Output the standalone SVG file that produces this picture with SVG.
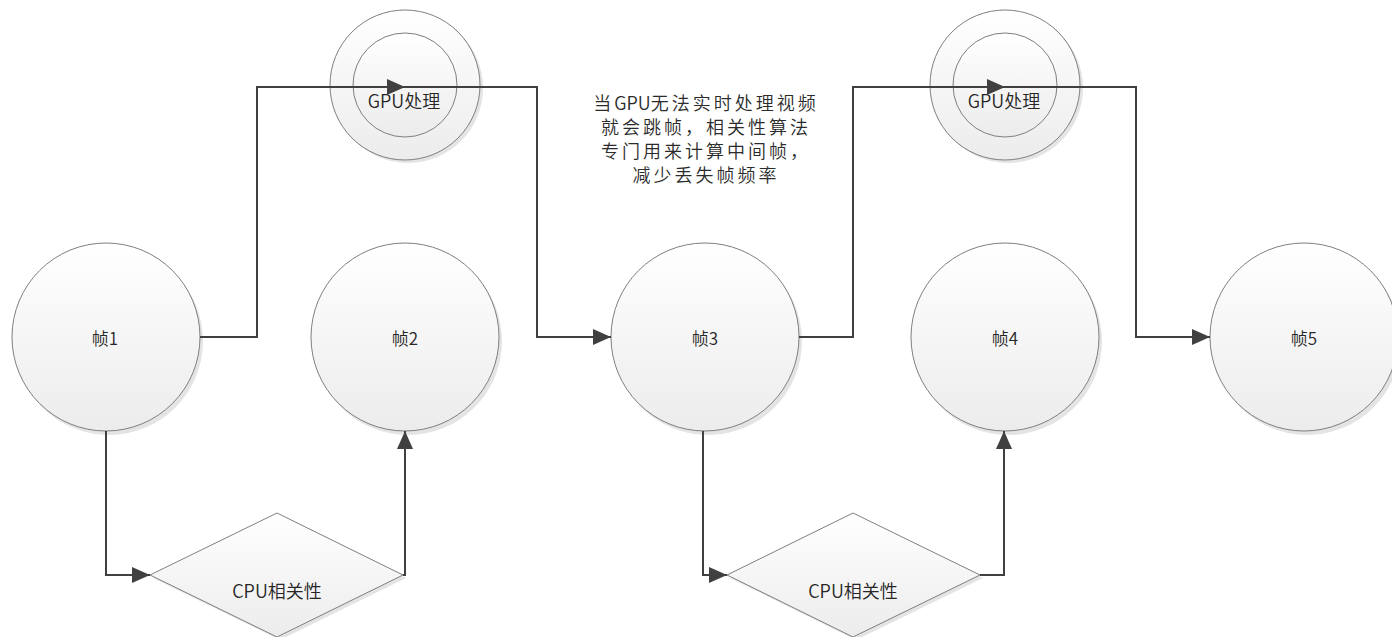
<svg xmlns="http://www.w3.org/2000/svg" width="1392" height="637" viewBox="0 0 1392 637">
<defs>
<linearGradient id="g" x1="0" y1="0" x2="0" y2="1">
<stop offset="0" stop-color="#ffffff"/>
<stop offset="1" stop-color="#ececec"/>
</linearGradient>
<marker id="ah" markerUnits="userSpaceOnUse" markerWidth="18" markerHeight="16" refX="18" refY="8" orient="auto">
<path d="M0,0 L18,8 L0,16 z" fill="#404040"/>
</marker>
</defs>
<style>
.shape{fill:url(#g);stroke:#7f7f7f;stroke-width:1}
.shadow{fill:#d9d9d9;stroke:none;opacity:0.7}
.lbl{font-family:"Noto Sans CJK SC","Liberation Sans",sans-serif;fill:#262626;text-anchor:middle;dominant-baseline:central;font-weight:350}
.f{font-size:17px}
.m{font-size:18px}
.note{font-family:"Noto Sans CJK SC","Liberation Sans",sans-serif;fill:#2b2b2b;text-anchor:middle;font-size:18px;letter-spacing:3px;font-weight:350}
.lat{letter-spacing:0px}
.c{fill:none;stroke:#404040;stroke-width:2;marker-end:url(#ah)}
</style>
<rect width="1392" height="637" fill="#ffffff"/>

<g id="gpu1">
<circle class="shadow" cx="408" cy="88" r="75"/>
<circle class="shape" cx="405" cy="85" r="75"/>
<circle class="shape" cx="405" cy="85" r="52"/>
<text class="lbl m" x="404" y="100">GPU处理</text>
</g>
<g id="gpu2">
<circle class="shadow" cx="1008" cy="88" r="75"/>
<circle class="shape" cx="1005" cy="85" r="75"/>
<circle class="shape" cx="1005" cy="85" r="52"/>
<text class="lbl m" x="1004" y="100">GPU处理</text>
</g>

<g id="frame1">
<circle class="shadow" cx="109" cy="341" r="94"/>
<circle class="shape" cx="106" cy="337" r="94"/>
<text class="lbl f" x="105" y="337">帧1</text>
</g>
<g id="frame2">
<circle class="shadow" cx="408" cy="341" r="94"/>
<circle class="shape" cx="405" cy="337" r="94"/>
<text class="lbl f" x="405" y="337">帧2</text>
</g>
<g id="frame3">
<circle class="shadow" cx="708" cy="341" r="94"/>
<circle class="shape" cx="705" cy="337" r="94"/>
<text class="lbl f" x="705" y="337">帧3</text>
</g>
<g id="frame4">
<circle class="shadow" cx="1008" cy="341" r="94"/>
<circle class="shape" cx="1005" cy="337" r="94"/>
<text class="lbl f" x="1005" y="337">帧4</text>
</g>
<g id="frame5">
<circle class="shadow" cx="1307" cy="341" r="94"/>
<circle class="shape" cx="1304" cy="337" r="94"/>
<text class="lbl f" x="1304" y="337">帧5</text>
</g>

<g id="cpu1">
<polygon class="shadow" points="280,516 406,578 280,640 153,578"/>
<polygon class="shape" points="277,513 403,575 277,637 150,575"/>
<text class="lbl m" x="277" y="590">CPU相关性</text>
</g>
<g id="cpu2">
<polygon class="shadow" points="856,516 983,578 856,640 730,578"/>
<polygon class="shape" points="853,513 980,575 853,637 727,575"/>
<text class="lbl m" x="853" y="590">CPU相关性</text>
</g>

<g id="note">
<text class="note" x="706" y="110">当<tspan class="lat">GPU</tspan>无法实时处理视频</text>
<text class="note" x="706" y="134">就会跳帧，相关性算法</text>
<text class="note" x="706" y="158">专门用来计算中间帧，</text>
<text class="note" x="706" y="182">减少丢失帧频率</text>
</g>

<g id="connectors">
<polyline class="c" points="200,337 257,337 257,87 405,87"/>
<polyline class="c" points="405,87 537,87 537,337 611,337"/>
<polyline class="c" points="799,337 853,337 853,87 1005,87"/>
<polyline class="c" points="1005,87 1136,87 1136,337 1210,337"/>
<polyline class="c" points="106,431 106,575 150,575"/>
<polyline class="c" points="403,575 405,575 405,431"/>
<polyline class="c" points="703,431 703,575 727,575"/>
<polyline class="c" points="980,575 1004,575 1004,431"/>
</g>
</svg>
